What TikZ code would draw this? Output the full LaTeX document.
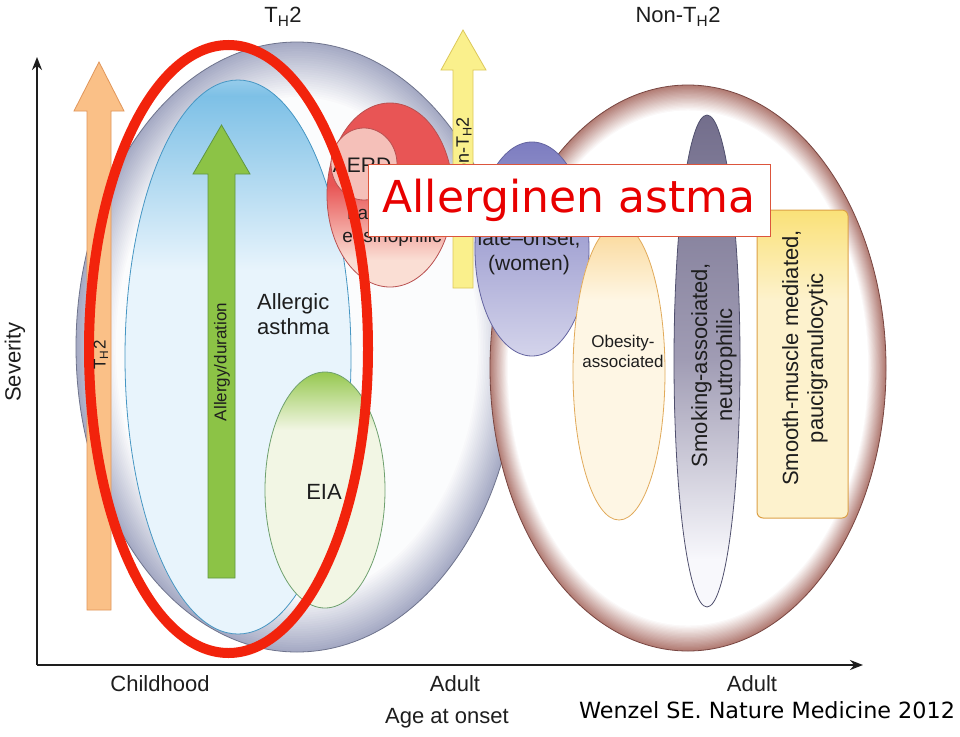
\documentclass[tikz,border=0pt]{standalone}
\usepackage{fontspec}
\setmainfont{Liberation Sans}
\newfontfamily\dejavu{DejaVu Sans}
\usetikzlibrary{arrows.meta}
\definecolor{txt}{RGB}{30,30,30}
\definecolor{thrimB}{RGB}{165,170,196}
\definecolor{thline}{RGB}{110,115,140}
\definecolor{ntrimB}{RGB}{178,124,116}
\definecolor{ntline}{RGB}{120,70,65}
\definecolor{blueTop}{RGB}{125,192,230}
\definecolor{blueBot}{RGB}{232,244,252}
\definecolor{blueLine}{RGB}{70,150,195}
\definecolor{grFill}{RGB}{140,195,70}
\definecolor{grLine}{RGB}{95,150,65}
\definecolor{orFill}{RGB}{250,192,135}
\definecolor{orLine}{RGB}{225,150,90}
\definecolor{yeFill}{RGB}{250,240,140}
\definecolor{yeLine}{RGB}{220,200,90}
\definecolor{eiaTop}{RGB}{150,200,80}
\definecolor{eiaBot}{RGB}{242,246,228}
\definecolor{eiaLine}{RGB}{110,160,110}
\definecolor{redTop}{RGB}{232,85,85}
\definecolor{redBot}{RGB}{250,222,212}
\definecolor{redLine}{RGB}{185,80,80}
\definecolor{aerdFill}{RGB}{245,192,185}
\definecolor{puTop}{RGB}{125,125,192}
\definecolor{puBot}{RGB}{212,212,235}
\definecolor{puLine}{RGB}{100,100,160}
\definecolor{obTop}{RGB}{250,215,150}
\definecolor{obBot}{RGB}{254,246,228}
\definecolor{obLine}{RGB}{225,170,90}
\definecolor{smTop}{RGB}{115,110,140}
\definecolor{smMid}{RGB}{160,156,180}
\definecolor{smBot}{RGB}{248,248,252}
\definecolor{smLine}{RGB}{80,80,110}
\definecolor{muTop}{RGB}{250,225,120}
\definecolor{muBot}{RGB}{253,242,205}
\definecolor{muLine}{RGB}{220,160,70}
\definecolor{annot}{RGB}{242,35,12}
\definecolor{boxLine}{RGB}{220,85,60}
\definecolor{boxText}{RGB}{232,0,0}
\tikzset{
  lab/.style={font=\fontsize{22}{25}\selectfont, text=txt, inner sep=0pt},
  smlab/.style={font=\fontsize{17}{20}\selectfont, text=txt, inner sep=0pt},
  axisline/.style={line width=2.4pt, draw=txt, -{Stealth[length=13pt,width=10pt]}},
}
\begin{document}
\begin{tikzpicture}[x=1pt,y=-1pt]
\useasboundingbox (0,0) rectangle (960,736);
\fill[white] (0,0) rectangle (960,736);

% big TH2 ellipse with soft rim
\foreach \i in {0,...,24} {
  \pgfmathsetmacro\f{1-0.0075*\i}
  \pgfmathsetmacro\rx{221*\f}
  \pgfmathsetmacro\ry{305*\f}
  \pgfmathtruncatemacro\p{4*\i}
  \fill[white!\p!thrimB] (297,347) ellipse [x radius=\rx pt, y radius=\ry pt];
}
\draw[thline, line width=0.8pt] (297,347) ellipse [x radius=221pt, y radius=305pt];

% big non-TH2 ellipse with soft rim
\foreach \i in {0,...,20} {
  \pgfmathsetmacro\f{1-0.0045*\i}
  \pgfmathsetmacro\rx{198*\f}
  \pgfmathsetmacro\ry{283*\f}
  \pgfmathtruncatemacro\p{5*\i}
  \fill[white!\p!ntrimB] (688,368) ellipse [x radius=\rx pt, y radius=\ry pt];
}
\draw[ntline, line width=0.8pt] (688,368) ellipse [x radius=198pt, y radius=283pt];

% axes
\coordinate (O) at (37,665);
\coordinate (Ytip) at (37,57);
\coordinate (Xtip) at (863,665);
\draw[axisline] (O) -- (Ytip);
\draw[axisline] (O) -- (Xtip);

% orange TH2 arrow
\filldraw[fill=orFill, draw=orLine, line width=0.8pt]
  (87,610) -- (87,111) -- (74,111) -- (99,62) -- (124,111) -- (111,111) -- (111,610) -- cycle;

% light blue allergic asthma ellipse
\begin{scope}
  \clip (238,357) ellipse [x radius=113pt, y radius=277pt];
  \fill[blueBot] (120,75) rectangle (360,640);
  \shade[top color=blueTop, bottom color=blueBot] (120,95) rectangle (360,270);
  \shade[top color=blueTop!75, bottom color=blueTop] (120,75) rectangle (360,96);
\end{scope}
\draw[blueLine, line width=0.8pt] (238,357) ellipse [x radius=113pt, y radius=277pt];

% green arrow
\filldraw[fill=grFill, draw=grLine, line width=0.8pt]
  (208,578) -- (208,174) -- (193,174) -- (221.5,125) -- (250,174) -- (235,174) -- (235,578) -- cycle;
\node[smlab, rotate=90] (allergy) at (222,362) {Allergy/duration};
\node[lab, align=left, anchor=west] (allergic) at (257,314) {Allergic\\asthma};

% EIA
\begin{scope}
  \clip (325,490) ellipse [x radius=60pt, y radius=118pt];
  \fill[eiaBot] (260,370) rectangle (390,610);
  \shade[top color=eiaTop, bottom color=eiaBot] (260,372) rectangle (390,430);
\end{scope}
\draw[eiaLine, line width=0.8pt] (325,490) ellipse [x radius=60pt, y radius=118pt];
\node[lab] (eia) at (324,492) {EIA};

% late-onset eosinophilic (red)
\begin{scope}
  \clip (390,195) ellipse [x radius=63pt, y radius=92pt];
  \fill[redBot] (320,100) rectangle (460,290);
  \fill[redTop] (320,100) rectangle (460,185);
  \shade[top color=redTop, bottom color=redBot] (320,185) rectangle (460,260);
\end{scope}
\draw[redLine, line width=0.8pt] (390,195) ellipse [x radius=63pt, y radius=92pt];
\filldraw[fill=aerdFill, draw=redLine, line width=0.8pt] (364,164) ellipse [x radius=33pt, y radius=36pt];
\node[lab, font=\fontsize{21}{24}\selectfont] (aerd) at (362,165) {AERD};
\node[lab, font=\fontsize{19}{23}\selectfont, align=center] (late) at (392,226) {Late-onset\\eosinophilic};

% purple ellipse
\begin{scope}
  \clip (532,249) ellipse [x radius=57pt, y radius=107pt];
  \shade[top color=puTop, bottom color=puBot] (470,142) rectangle (595,357);
\end{scope}
\draw[puLine, line width=0.8pt] (532,249) ellipse [x radius=57pt, y radius=107pt];
\node[lab, font=\fontsize{21}{25}\selectfont, align=center] (women) at (529,253) {late--onset,\\(women)};

% yellow non-TH2 arrow
\filldraw[fill=yeFill, draw=yeLine, line width=0.8pt]
  (453,288) -- (453,70) -- (441,70) -- (463,30) -- (486,70) -- (473,70) -- (473,288) -- cycle;
\node[lab, font=\fontsize{18}{21}\selectfont, rotate=90] (nonarrow) at (464,152) {Non-T\textsubscript{H}2};

% obesity
\begin{scope}
  \clip (619,372) ellipse [x radius=46pt, y radius=148pt];
  \fill[obBot] (570,220) rectangle (670,525);
  \shade[top color=obTop, bottom color=obBot] (570,224) rectangle (670,300);
\end{scope}
\draw[obLine, line width=0.8pt] (619,372) ellipse [x radius=46pt, y radius=148pt];
\node[smlab, align=center] (obesity) at (623,351) {Obesity-\\associated};

% smoking
\begin{scope}
  \clip (707,361) ellipse [x radius=33pt, y radius=246pt];
  \shade[top color=smTop, bottom color=smMid] (670,115) rectangle (745,360);
  \shade[top color=smMid, bottom color=smBot] (670,359) rectangle (745,560);
  \fill[smBot] (670,559) rectangle (745,610);
\end{scope}
\draw[smLine, line width=0.8pt] (707,361) ellipse [x radius=33pt, y radius=246pt];
\node[lab, rotate=90, align=center] (smoking) at (714,365) {Smoking-associated,\\neutrophilic};

% smooth muscle box
\begin{scope}
  \clip[rounded corners=6pt] (757,210) rectangle (848,518);
  \fill[muBot] (757,210) rectangle (848,518);
  \shade[top color=muTop, bottom color=muBot] (757,210) rectangle (848,300);
\end{scope}
\draw[muLine, line width=1pt, rounded corners=6pt] (757,210) rectangle (848,518);
\node[lab, rotate=90, align=center] (smooth) at (805,358) {Smooth-muscle mediated,\\paucigranulocytic};

% red annotation ellipse
\draw[annot, line width=10pt] (228.5,349) ellipse [x radius=139.5pt, y radius=304pt];
\node[smlab, rotate=90] (tharrow) at (101,355) {T\textsubscript{H}2};

% label box
\node[draw=boxLine, fill=white, line width=1pt, minimum width=402pt, minimum height=72pt, inner sep=0pt,
      text=boxText, font=\dejavu\fontsize{44}{50}\selectfont] (allergbox) at (569,200) {Allerginen astma};

% axis labels
\node[lab] (th2) at (283,17) {T\textsubscript{H}2};
\node[lab] (nonth2) at (678,17) {Non-T\textsubscript{H}2};
\node[lab, rotate=90] (sev) at (15,362) {Severity};
\node[lab] (child) at (160,684) {Childhood};
\node[lab] (adult1) at (455,684) {Adult};
\node[lab] (adult2) at (752,684) {Adult};
\node[lab] (age) at (447,718) {Age at onset};
\node[inner sep=0pt, text=black, font=\dejavu\fontsize{22.3}{26}\selectfont] (ref) at (767,710) {Wenzel SE. Nature Medicine 2012};
\end{tikzpicture}
\end{document}
